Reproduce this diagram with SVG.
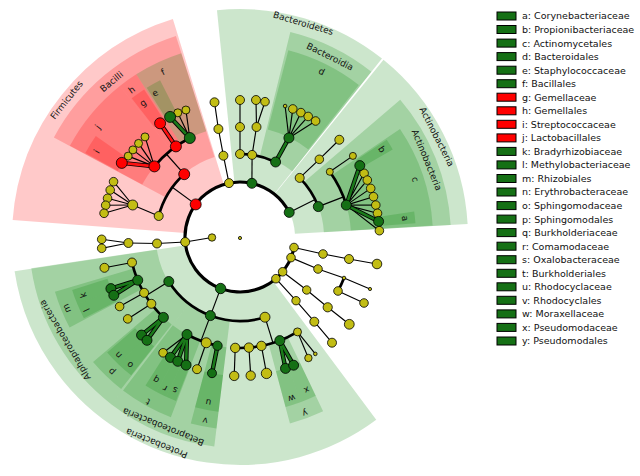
<svg xmlns="http://www.w3.org/2000/svg" width="640" height="476" viewBox="0 0 640 476">
<style>
.wr{fill:none;stroke:#ff0000;stroke-opacity:0.21}
.wg{fill:none;stroke:#008000;stroke-opacity:0.2}
.e{fill:none;stroke:#000;stroke-width:1.15}
.E{fill:none;stroke:#000;stroke-width:2.7}
.R{fill:none;stroke:#000;stroke-width:3.1}
.ub{stroke:#000;stroke-width:4.4}
.gl{stroke:#1a7a1a;stroke-width:2.6}
.rl{stroke:#ff1010;stroke-width:2.6}
circle.y,circle.g,circle.r{stroke:#000;stroke-width:0.8}
.y{fill:#c2bd14}.g{fill:#157015}.r{fill:#ff0000}
text{font-family:"DejaVu Sans","Liberation Sans",sans-serif;font-size:9px;fill:#111}
.lbl{text-anchor:middle;dominant-baseline:central}
.lg text{font-size:9.5px}
.lr{stroke:#000;stroke-width:1}
</style>
<g id="wedges">
<circle class="wr" cx="240" cy="237" r="141.5" stroke-width="173" stroke-dasharray="169.29 2000" transform="rotate(184.3 240 237)"/>
<circle class="wr" cx="240" cy="237" r="147.5" stroke-width="127" stroke-dasharray="113.79 2000" transform="rotate(208.1 240 237)"/>
<circle class="wr" cx="240" cy="237" r="152" stroke-width="82" stroke-dasharray="61.81 2000" transform="rotate(208.2 240 237)"/>
<circle class="wr" cx="240" cy="237" r="152" stroke-width="82" stroke-dasharray="15.92 2000" transform="rotate(231.5 240 237)"/>
<circle class="wr" cx="240" cy="237" r="157.5" stroke-width="37" stroke-dasharray="17.87 2000" transform="rotate(208.5 240 237)"/>
<circle class="wr" cx="240" cy="237" r="157.5" stroke-width="37" stroke-dasharray="13.74 2000" transform="rotate(232 240 237)"/>
<circle class="wg" cx="240" cy="237" r="152" stroke-width="82" stroke-dasharray="39.26 2000" transform="rotate(237.5 240 237)"/>
<circle class="wg" cx="240" cy="237" r="157.5" stroke-width="37" stroke-dasharray="13.74 2000" transform="rotate(238 240 237)"/>
<circle class="wg" cx="240" cy="237" r="141.5" stroke-width="173" stroke-dasharray="109.40 2000" transform="rotate(-95.8 240 237)"/>
<circle class="wg" cx="240" cy="237" r="147.5" stroke-width="127" stroke-dasharray="63.59 2000" transform="rotate(-76.2 240 237)"/>
<circle class="wg" cx="240" cy="237" r="152" stroke-width="82" stroke-dasharray="62.34 2000" transform="rotate(-75.5 240 237)"/>
<circle class="wg" cx="240" cy="237" r="141.5" stroke-width="173" stroke-dasharray="117.80 2000" transform="rotate(-51 240 237)"/>
<circle class="wg" cx="240" cy="237" r="147.5" stroke-width="127" stroke-dasharray="96.02 2000" transform="rotate(-40.6 240 237)"/>
<circle class="wg" cx="240" cy="237" r="152" stroke-width="82" stroke-dasharray="81.18 2000" transform="rotate(-34 240 237)"/>
<circle class="wg" cx="240" cy="237" r="157.5" stroke-width="37" stroke-dasharray="10.17 2000" transform="rotate(-33.5 240 237)"/>
<circle class="wg" cx="240" cy="237" r="157.5" stroke-width="37" stroke-dasharray="10.45 2000" transform="rotate(-8.3 240 237)"/>
<circle class="wg" cx="240" cy="237" r="141.5" stroke-width="173" stroke-dasharray="291.42 2000" transform="rotate(53.3 240 237)"/>
<circle class="wg" cx="240" cy="237" r="147.5" stroke-width="127" stroke-dasharray="113.27 2000" transform="rotate(127.5 240 237)"/>
<circle class="wg" cx="240" cy="237" r="152" stroke-width="82" stroke-dasharray="30.51 2000" transform="rotate(152 240 237)"/>
<circle class="wg" cx="240" cy="237" r="157.5" stroke-width="37" stroke-dasharray="13.74 2000" transform="rotate(157.5 240 237)"/>
<circle class="wg" cx="240" cy="237" r="157.5" stroke-width="37" stroke-dasharray="13.74 2000" transform="rotate(152.5 240 237)"/>
<circle class="wg" cx="240" cy="237" r="152" stroke-width="82" stroke-dasharray="30.77 2000" transform="rotate(128 240 237)"/>
<circle class="wg" cx="240" cy="237" r="157.5" stroke-width="37" stroke-dasharray="15.12 2000" transform="rotate(133.5 240 237)"/>
<circle class="wg" cx="240" cy="237" r="157.5" stroke-width="37" stroke-dasharray="14.57 2000" transform="rotate(128.2 240 237)"/>
<circle class="wg" cx="240" cy="237" r="147.5" stroke-width="127" stroke-dasharray="78.52 2000" transform="rotate(97 240 237)"/>
<circle class="wg" cx="240" cy="237" r="152" stroke-width="82" stroke-dasharray="43.24 2000" transform="rotate(111 240 237)"/>
<circle class="wg" cx="240" cy="237" r="157.5" stroke-width="37" stroke-dasharray="11.55 2000" transform="rotate(118.3 240 237)"/>
<circle class="wg" cx="240" cy="237" r="157.5" stroke-width="37" stroke-dasharray="9.62 2000" transform="rotate(114.8 240 237)"/>
<circle class="wg" cx="240" cy="237" r="157.5" stroke-width="37" stroke-dasharray="9.62 2000" transform="rotate(111.3 240 237)"/>
<circle class="wg" cx="240" cy="237" r="152" stroke-width="82" stroke-dasharray="20.69 2000" transform="rotate(97 240 237)"/>
<circle class="wg" cx="240" cy="237" r="157.5" stroke-width="37" stroke-dasharray="21.44 2000" transform="rotate(97 240 237)"/>
<circle class="wg" cx="240" cy="237" r="152" stroke-width="82" stroke-dasharray="27.86 2000" transform="rotate(64.5 240 237)"/>
<circle class="wg" cx="240" cy="237" r="157.5" stroke-width="37" stroke-dasharray="14.57 2000" transform="rotate(69.7 240 237)"/>
<circle class="wg" cx="240" cy="237" r="157.5" stroke-width="37" stroke-dasharray="14.29 2000" transform="rotate(64.5 240 237)"/>
</g>
<g id="clade-labels">
<text class="lbl" transform="translate(66.7 100) rotate(308.3)">Firmicutes</text>
<text class="lbl" transform="translate(111.7 81.7) rotate(320.4)">Bacilli</text>
<text class="lbl" transform="translate(303.3 23.3) rotate(16.5)">Bacteroidetes</text>
<text class="lbl" transform="translate(330 56.7) rotate(26.5)">Bacteroidia</text>
<text class="lbl" transform="translate(436.7 136.7) rotate(63)">Actinobacteria</text>
<text class="lbl" transform="translate(426.7 160) rotate(67.6)">Actinobacteria</text>
<text class="lbl" transform="translate(156.7 443.3) rotate(202)">Proteobacteria</text>
<text class="lbl" transform="translate(163.3 426.7) rotate(202)">Betaproteobacteria</text>
<text class="lbl" transform="translate(65 340) rotate(239.5)">Alphaproteobacteria</text>
<text class="lbl" transform="translate(98 127) rotate(307.8)">j</text>
<text class="lbl" transform="translate(131.7 90) rotate(323.6)">h</text>
<text class="lbl" transform="translate(143 103) rotate(324.1)">g</text>
<text class="lbl" transform="translate(163 72) rotate(335)">f</text>
<text class="lbl" transform="translate(155 93) rotate(329.4)">e</text>
<text class="lbl" transform="translate(96.7 151.7) rotate(300.8)">i</text>
<text class="lbl" transform="translate(321.7 71.7) rotate(26.3)">d</text>
<text class="lbl" transform="translate(381.7 149.3) rotate(58.2)">b</text>
<text class="lbl" transform="translate(415 179.3) rotate(71.8)">c</text>
<text class="lbl" transform="translate(405 218.3) rotate(83.5)">a</text>
<text class="lbl" transform="translate(66.7 308.3) rotate(247.6)">m</text>
<text class="lbl" transform="translate(83.3 295) rotate(249.7)">k</text>
<text class="lbl" transform="translate(86.7 310) rotate(244.5)">l</text>
<text class="lbl" transform="translate(118.3 355) rotate(225.9)">n</text>
<text class="lbl" transform="translate(130 365) rotate(220.7)">o</text>
<text class="lbl" transform="translate(111.7 371.7) rotate(223.6)">p</text>
<text class="lbl" transform="translate(156 380) rotate(210.4)">q</text>
<text class="lbl" transform="translate(165 388.3) rotate(206.4)">r</text>
<text class="lbl" transform="translate(175 390) rotate(203)">s</text>
<text class="lbl" transform="translate(148 401.7) rotate(209)">t</text>
<text class="lbl" transform="translate(208.3 402.3) rotate(190.9)">u</text>
<text class="lbl" transform="translate(205 420.7) rotate(190.8)">v</text>
<text class="lbl" transform="translate(291.7 398.3) rotate(162.2)">w</text>
<text class="lbl" transform="translate(306.7 390) rotate(156.4)">x</text>
<text class="lbl" transform="translate(305 413.3) rotate(159.8)">y</text>
</g>
<g id="connectors">
<path class="R" d="M293.99 247.49 A55 55 0 1 1 289.18 212.37"/>
<line class="e" x1="212" y1="237.5" x2="185.2" y2="242"/>
<polyline class="e" points="294,247.5 323,254 349,259 377,264"/>
<polyline class="e" points="291,257.6 318,269 344,278 370,289"/>
<line class="e" x1="338" y1="291" x2="364" y2="303"/>
<path class="E" d="M344 278 A112 112 0 0 1 338 291"/>
<polyline class="e" points="282.6,271.8 306.7,290 327.7,307.3 349.3,324.3"/>
<polyline class="e" points="275.9,278.7 296,300.7 314.3,321.7 332,342.7"/>
<polyline class="e" points="185.2,242 157,243.5 128.4,243"/>
<polyline class="e" points="101.7,239.3 128.4,243 101.7,248.3 101.7,239.3"/>
<line class="e" x1="220.6" y1="288.5" x2="210.4" y2="315.6"/>
<path class="E" d="M265 317.2 A84 84 0 0 1 168.8 281.5"/>
<line class="e" x1="168.8" y1="281.5" x2="145.9" y2="295.8"/>
<path class="E" d="M163.4 317.4 A111 111 0 0 1 132 262.5"/>
<line class="e" x1="132" y1="262.5" x2="104.45" y2="267.8"/>
<line class="e" x1="144.1" y1="292.8" x2="119.6" y2="306.5"/>
<line class="e" x1="151.35" y1="303.8" x2="127.7" y2="318.9"/>
<g class="ub"><line x1="137.75" y1="280.2" x2="110.9" y2="288.6"/><line x1="137.75" y1="280.2" x2="113.8" y2="295.3"/><line x1="163.4" y1="317.4" x2="141.55" y2="335.1"/><line x1="163.4" y1="317.4" x2="147" y2="340.3"/></g>
<g class="gl"><line x1="137.75" y1="280.2" x2="110.9" y2="288.6"/><line x1="137.75" y1="280.2" x2="113.8" y2="295.3"/><line x1="163.4" y1="317.4" x2="141.55" y2="335.1"/><line x1="163.4" y1="317.4" x2="147" y2="340.3"/></g>
<line class="e" x1="210.4" y1="315.6" x2="200.95" y2="340.9"/>
<path class="E" d="M217.5 345.7 A111 111 0 0 1 187 334.5"/>
<line class="e" x1="187" y1="334.5" x2="163.1" y2="352.8"/>
<line class="e" x1="206.25" y1="342.75" x2="197" y2="369.2"/>
<g class="ub"><line x1="187" y1="334.5" x2="170.5" y2="357.4"/><line x1="187" y1="334.5" x2="177.8" y2="361.3"/><line x1="187" y1="334.5" x2="186.1" y2="365.1"/><line x1="217.5" y1="345.7" x2="212" y2="373.2"/></g>
<g class="gl"><line x1="187" y1="334.5" x2="170.5" y2="357.4"/><line x1="187" y1="334.5" x2="177.8" y2="361.3"/><line x1="187" y1="334.5" x2="186.1" y2="365.1"/><line x1="217.5" y1="345.7" x2="212" y2="373.2"/></g>
<line class="e" x1="265" y1="317.2" x2="273" y2="343"/>
<path class="E" d="M297.5 331.9 A111 111 0 0 1 235.2 347.9"/>
<line class="e" x1="235.2" y1="347.9" x2="234.2" y2="375.9"/>
<line class="e" x1="248.9" y1="347.6" x2="250.7" y2="375.6"/>
<line class="e" x1="261.4" y1="345.9" x2="266.5" y2="373.4"/>
<line class="e" x1="297.5" y1="331.9" x2="308.4" y2="358"/>
<line class="e" x1="297.5" y1="331.9" x2="315.3" y2="353.9"/>
<g class="ub"><line x1="279.8" y1="340.6" x2="285.5" y2="368.4"/><line x1="279.8" y1="340.6" x2="293.6" y2="365.2"/></g>
<g class="gl"><line x1="279.8" y1="340.6" x2="285.5" y2="368.4"/><line x1="279.8" y1="340.6" x2="293.6" y2="365.2"/></g>
<line class="e" x1="289.2" y1="212.4" x2="315.1" y2="199.4"/>
<path class="E" d="M299.7 177.9 A84 84 0 0 1 318.3 206.6"/>
<polyline class="e" points="299.7,177.9 319.3,159.3 339.3,139.75"/>
<line class="e" x1="318.3" y1="206.6" x2="343.5" y2="196.9"/>
<path class="E" d="M329.8 171.8 A111 111 0 0 1 346.3 205.1"/>
<line class="e" x1="329.8" y1="171.8" x2="352.9" y2="155.9"/>
<g class="e"><line x1="346.3" y1="205.1" x2="364.1" y2="173.3"/><line x1="346.3" y1="205.1" x2="367.3" y2="180.1"/><line x1="346.3" y1="205.1" x2="370.7" y2="188.4"/><line x1="346.3" y1="205.1" x2="373.5" y2="196.7"/><line x1="346.3" y1="205.1" x2="375.8" y2="205.1"/><line x1="346.3" y1="205.1" x2="377.5" y2="213.3"/><line x1="346.3" y1="205.1" x2="379.4" y2="230.7"/></g>
<g class="ub"><line x1="346.3" y1="205.1" x2="359.8" y2="165.6"/><line x1="346.3" y1="205.1" x2="378.6" y2="221.4"/></g>
<g class="gl"><line x1="346.3" y1="205.1" x2="359.8" y2="165.6"/><line x1="346.3" y1="205.1" x2="378.6" y2="221.4"/></g>
<polyline class="e" points="229,183.1 223.4,155.7 218.4,129 214.5,102.3"/>
<line class="e" x1="251.9" y1="183.3" x2="252.1" y2="154.9"/>
<path class="E" d="M240 154 A83 83 0 0 1 275.6 162"/>
<polyline class="e" points="240,154 240,127 240,100"/>
<line class="e" x1="252.1" y1="154.9" x2="256.5" y2="127"/>
<polyline class="e" points="256,100 256.5,127 265,101.7"/>
<g class="e"><line x1="288.9" y1="137.9" x2="285.1" y2="106.05"/><line x1="288.9" y1="137.9" x2="292.8" y2="108.95"/><line x1="288.9" y1="137.9" x2="300.9" y2="112.6"/><line x1="288.9" y1="137.9" x2="308.2" y2="116.45"/><line x1="288.9" y1="137.9" x2="315.6" y2="121"/></g>
<line class="ub" x1="275.6" y1="162" x2="288.9" y2="137.9"/>
<line class="gl" x1="275.6" y1="162" x2="288.9" y2="137.9"/>
<line class="e" x1="195.7" y1="204.4" x2="172.3" y2="187.3"/>
<path class="E" d="M158.7 216 A84 84 0 0 1 184.2 174.2"/>
<line class="e" x1="158.7" y1="216" x2="132.7" y2="205"/>
<g class="e"><line x1="132.7" y1="205" x2="113.55" y2="181.7"/><line x1="132.7" y1="205" x2="110.2" y2="190"/><line x1="132.7" y1="205" x2="107.55" y2="198.3"/><line x1="132.7" y1="205" x2="105.7" y2="205.25"/><line x1="132.7" y1="205" x2="104.06" y2="213.3"/></g>
<line class="e" x1="184.2" y1="174.2" x2="166.3" y2="154"/>
<path class="E" d="M154.4 166.4 A111 111 0 0 1 189.8 138"/>
<g class="e"><line x1="154.4" y1="166.4" x2="128.2" y2="156.1"/><line x1="154.4" y1="166.4" x2="132.9" y2="149.9"/><line x1="154.4" y1="166.4" x2="138.55" y2="143.4"/><line x1="154.4" y1="166.4" x2="145" y2="136.9"/><line x1="189.8" y1="138" x2="177.8" y2="112.8"/><line x1="189.8" y1="138" x2="185.9" y2="110"/></g>
<g class="ub"><line x1="154.4" y1="166.4" x2="121.8" y2="162.9"/><line x1="175.9" y1="146.4" x2="160.1" y2="123.3"/><line x1="189.8" y1="138" x2="170.1" y2="116.9"/></g>
<line class="rl" x1="154.4" y1="166.4" x2="121.8" y2="162.9"/>
<line class="rl" x1="175.9" y1="146.4" x2="160.1" y2="123.3"/>
<line class="gl" x1="189.8" y1="138" x2="170.1" y2="116.9"/>
</g>
<g id="nodes">
<g id="root"><circle class="y" cx="240" cy="238" r="1.6"/></g>
<g id="n-inner"><circle class="y" cx="212" cy="237.5" r="3.7"/></g>
<g id="p1"><circle class="y" cx="294" cy="247.5" r="4.3"/><circle class="y" cx="323" cy="254" r="4.3"/><circle class="y" cx="349" cy="259" r="4.5"/><circle class="y" cx="377" cy="264" r="4.8"/></g>
<g id="p2"><circle class="y" cx="291" cy="257.6" r="4.3"/><circle class="y" cx="318" cy="269" r="4.3"/><circle class="y" cx="344" cy="278" r="1.8"/><circle class="y" cx="338" cy="291" r="4.3"/><circle class="y" cx="370" cy="289" r="1.6"/><circle class="y" cx="364" cy="303" r="4.3"/></g>
<g id="p3"><circle class="y" cx="282.6" cy="271.8" r="4.3"/><circle class="y" cx="306.7" cy="290" r="4.2"/><circle class="y" cx="327.7" cy="307.3" r="4.6"/><circle class="y" cx="349.3" cy="324.3" r="4.9"/></g>
<g id="p4"><circle class="y" cx="275.9" cy="278.7" r="4.3"/><circle class="y" cx="296" cy="300.7" r="4.2"/><circle class="y" cx="314.3" cy="321.7" r="4.5"/><circle class="y" cx="332" cy="342.7" r="4.5"/></g>
<g id="pl"><circle class="y" cx="185.2" cy="242" r="4.5"/><circle class="y" cx="157" cy="243.5" r="4.5"/><circle class="y" cx="128.4" cy="243" r="4.5"/><circle class="y" cx="101.7" cy="239.3" r="4.3"/><circle class="y" cx="101.7" cy="248.3" r="4.3"/></g>
<g id="proteobacteria"><circle class="g" cx="220.6" cy="288.5" r="5.2"/></g>
<g id="betaproteobacteria"><circle class="g" cx="210.4" cy="315.6" r="5"/></g>
<g id="alphaproteobacteria"><circle class="g" cx="168.8" cy="281.5" r="5"/></g>
<g id="gammaproteobacteria"><circle class="y" cx="265" cy="317.2" r="5"/></g>
<g id="alpha-yellow"><circle class="y" cx="132" cy="262.5" r="4.5"/><circle class="y" cx="144.1" cy="292.8" r="4.5"/><circle class="y" cx="151.35" cy="303.8" r="4.5"/><circle class="y" cx="104.45" cy="267.8" r="4.5"/><circle class="y" cx="119.6" cy="306.5" r="4.3"/><circle class="y" cx="127.7" cy="318.9" r="4.3"/></g>
<g id="m"><circle class="g" cx="137.75" cy="280.2" r="5"/></g>
<g id="k"><circle class="g" cx="110.9" cy="288.6" r="5"/></g>
<g id="l"><circle class="g" cx="113.8" cy="295.3" r="5"/></g>
<g id="p"><circle class="g" cx="163.4" cy="317.4" r="5"/></g>
<g id="n"><circle class="g" cx="141.55" cy="335.1" r="5"/></g>
<g id="o"><circle class="g" cx="147" cy="340.3" r="5"/></g>
<g id="beta-yellow"><circle class="y" cx="206.25" cy="342.75" r="5"/><circle class="y" cx="163.1" cy="352.8" r="4.3"/><circle class="y" cx="197" cy="369.2" r="4.5"/></g>
<g id="t"><circle class="g" cx="187" cy="334.5" r="5"/></g>
<g id="q"><circle class="g" cx="170.5" cy="357.4" r="5"/></g>
<g id="r"><circle class="g" cx="177.8" cy="361.3" r="5"/></g>
<g id="s"><circle class="g" cx="186.1" cy="365.1" r="5"/></g>
<g id="v"><circle class="g" cx="217.5" cy="345.7" r="4.7"/></g>
<g id="u"><circle class="g" cx="212" cy="373.2" r="4.5"/></g>
<g id="gamma-yellow"><circle class="y" cx="235.2" cy="347.9" r="4.7"/><circle class="y" cx="248.9" cy="347.6" r="4.7"/><circle class="y" cx="261.4" cy="345.9" r="4.7"/><circle class="y" cx="297.5" cy="331.9" r="4"/><circle class="y" cx="234.2" cy="375.9" r="4.7"/><circle class="y" cx="250.7" cy="375.6" r="4.7"/><circle class="y" cx="266.5" cy="373.4" r="5.2"/><circle class="y" cx="308.4" cy="358" r="3.7"/><circle class="y" cx="315.3" cy="353.9" r="1.8"/></g>
<g id="y"><circle class="g" cx="279.8" cy="340.6" r="5"/></g>
<g id="w"><circle class="g" cx="285.5" cy="368.4" r="5"/></g>
<g id="x"><circle class="g" cx="293.6" cy="365.2" r="5"/></g>
<g id="actinobacteria-phylum"><circle class="g" cx="289.2" cy="212.4" r="5"/></g>
<g id="actinobacteria-class"><circle class="g" cx="318.3" cy="206.6" r="5"/></g>
<g id="actino-yellow"><circle class="y" cx="299.7" cy="177.9" r="4.5"/><circle class="y" cx="319.3" cy="159.3" r="4.3"/><circle class="y" cx="339.3" cy="139.75" r="4.5"/><circle class="y" cx="329.8" cy="171.8" r="3.5"/><circle class="y" cx="352.9" cy="155.9" r="3.5"/><circle class="y" cx="364.1" cy="173.3" r="4.3"/><circle class="y" cx="367.3" cy="180.1" r="4.3"/><circle class="y" cx="370.7" cy="188.4" r="4.3"/><circle class="y" cx="373.5" cy="196.7" r="4.3"/><circle class="y" cx="375.8" cy="205.1" r="4.3"/><circle class="y" cx="377.5" cy="213.3" r="4.3"/><circle class="y" cx="379.4" cy="230.7" r="4.3"/></g>
<g id="c"><circle class="g" cx="346.3" cy="205.1" r="5"/></g>
<g id="b"><circle class="g" cx="359.8" cy="165.6" r="5"/></g>
<g id="a"><circle class="g" cx="378.6" cy="221.4" r="5"/></g>
<g id="bacteroidetes"><circle class="g" cx="251.9" cy="183.3" r="5"/></g>
<g id="bacteroidia"><circle class="g" cx="275.6" cy="162" r="5"/></g>
<g id="d"><circle class="g" cx="288.9" cy="137.9" r="5"/></g>
<g id="bact-yellow"><circle class="y" cx="229" cy="183.1" r="4.5"/><circle class="y" cx="223.4" cy="155.7" r="4.5"/><circle class="y" cx="218.4" cy="129" r="4.5"/><circle class="y" cx="214.5" cy="102.3" r="4.5"/><circle class="y" cx="240" cy="154" r="4.5"/><circle class="y" cx="252.1" cy="154.9" r="4.5"/><circle class="y" cx="240" cy="127" r="4.5"/><circle class="y" cx="240" cy="100" r="4.5"/><circle class="y" cx="256.5" cy="127" r="4.5"/><circle class="y" cx="256" cy="100" r="4.5"/><circle class="y" cx="265" cy="101.7" r="4.3"/><circle class="y" cx="285.1" cy="106.05" r="1.8"/><circle class="y" cx="292.8" cy="108.95" r="4.3"/><circle class="y" cx="300.9" cy="112.6" r="4.3"/><circle class="y" cx="308.2" cy="116.45" r="4.3"/><circle class="y" cx="315.6" cy="121" r="4.3"/></g>
<g id="firmicutes"><circle class="r" cx="195.7" cy="204.4" r="5.5"/></g>
<g id="bacilli"><circle class="r" cx="184.2" cy="174.2" r="5.5"/></g>
<g id="firm-yellow"><circle class="y" cx="158.7" cy="216" r="4.5"/><circle class="y" cx="132.7" cy="205" r="5"/><circle class="y" cx="113.55" cy="181.7" r="4.3"/><circle class="y" cx="110.2" cy="190" r="4.3"/><circle class="y" cx="107.55" cy="198.3" r="4.3"/><circle class="y" cx="105.7" cy="205.25" r="4.3"/><circle class="y" cx="104.06" cy="213.3" r="4.3"/><circle class="y" cx="128.2" cy="156.1" r="4"/><circle class="y" cx="132.9" cy="149.9" r="4"/><circle class="y" cx="138.55" cy="143.4" r="4"/><circle class="y" cx="145" cy="136.9" r="4"/><circle class="y" cx="177.8" cy="112.8" r="4"/><circle class="y" cx="185.9" cy="110" r="4"/></g>
<g id="j"><circle class="r" cx="154.4" cy="166.4" r="5.5"/></g>
<g id="h"><circle class="r" cx="175.9" cy="146.4" r="5.5"/></g>
<g id="f"><circle class="g" cx="189.8" cy="138" r="5.5"/></g>
<g id="i"><circle class="r" cx="121.8" cy="162.9" r="5.5"/></g>
<g id="g"><circle class="r" cx="160.1" cy="123.3" r="5.5"/></g>
<g id="e"><circle class="g" cx="170.1" cy="116.9" r="5.5"/></g>
</g>
<g id="legend">
<g class="lr"><rect class="g" x="497" y="12" width="19" height="8"/><rect class="g" x="497" y="25.5" width="19" height="8"/><rect class="g" x="497" y="39.1" width="19" height="8"/><rect class="g" x="497" y="52.6" width="19" height="8"/><rect class="g" x="497" y="66.2" width="19" height="8"/><rect class="g" x="497" y="79.7" width="19" height="8"/><rect class="r" x="497" y="93.2" width="19" height="8"/><rect class="r" x="497" y="106.8" width="19" height="8"/><rect class="r" x="497" y="120.3" width="19" height="8"/><rect class="r" x="497" y="133.9" width="19" height="8"/><rect class="g" x="497" y="147.4" width="19" height="8"/><rect class="g" x="497" y="160.9" width="19" height="8"/><rect class="g" x="497" y="174.5" width="19" height="8"/><rect class="g" x="497" y="188" width="19" height="8"/><rect class="g" x="497" y="201.6" width="19" height="8"/><rect class="g" x="497" y="215.1" width="19" height="8"/><rect class="g" x="497" y="228.6" width="19" height="8"/><rect class="g" x="497" y="242.2" width="19" height="8"/><rect class="g" x="497" y="255.7" width="19" height="8"/><rect class="g" x="497" y="269.3" width="19" height="8"/><rect class="g" x="497" y="282.8" width="19" height="8"/><rect class="g" x="497" y="296.3" width="19" height="8"/><rect class="g" x="497" y="309.9" width="19" height="8"/><rect class="g" x="497" y="323.4" width="19" height="8"/><rect class="g" x="497" y="337" width="19" height="8"/></g>
<g class="lg">
<text x="522" y="19.4">a: Corynebacteriaceae</text>
<text x="522" y="32.9">b: Propionibacteriaceae</text>
<text x="522" y="46.5">c: Actinomycetales</text>
<text x="522" y="60">d: Bacteroidales</text>
<text x="522" y="73.6">e: Staphylococcaceae</text>
<text x="522" y="87.1">f: Bacillales</text>
<text x="522" y="100.6">g: Gemellaceae</text>
<text x="522" y="114.2">h: Gemellales</text>
<text x="522" y="127.7">i: Streptococcaceae</text>
<text x="522" y="141.3">j: Lactobacillales</text>
<text x="522" y="154.8">k: Bradyrhizobiaceae</text>
<text x="522" y="168.3">l: Methylobacteriaceae</text>
<text x="522" y="181.9">m: Rhizobiales</text>
<text x="522" y="195.4">n: Erythrobacteraceae</text>
<text x="522" y="209">o: Sphingomodaceae</text>
<text x="522" y="222.5">p: Sphingomodales</text>
<text x="522" y="236">q: Burkholderiaceae</text>
<text x="522" y="249.6">r: Comamodaceae</text>
<text x="522" y="263.1">s: Oxalobacteraceae</text>
<text x="522" y="276.7">t: Burkholderiales</text>
<text x="522" y="290.2">u: Rhodocyclaceae</text>
<text x="522" y="303.7">v: Rhodocyclales</text>
<text x="522" y="317.3">w: Moraxellaceae</text>
<text x="522" y="330.8">x: Pseudomodaceae</text>
<text x="522" y="344.4">y: Pseudomodales</text>
</g>
</g>
</svg>
